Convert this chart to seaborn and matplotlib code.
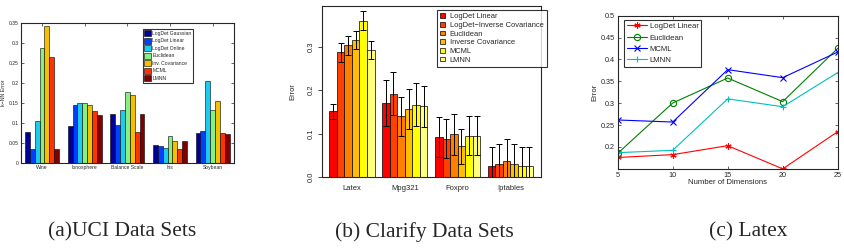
import numpy as np
import pandas as pd
import matplotlib
matplotlib.use("Agg")
import matplotlib.pyplot as plt
import seaborn as sns
from matplotlib.patches import Patch

# ---------------- data ----------------
uci_sets = ["Wine", "Ionosphere", "Balance Scale", "Iris", "Soybean"]
uci_methods = ["LogDet Gaussian", "LogDet Linear", "LogDet Online", "Euclidean",
               "Inv. Covariance", "MCML", "LMNN"]
uci_err = {
    "LogDet Gaussian": [0.077, 0.093, 0.122, 0.046, 0.074],
    "LogDet Linear":   [0.035, 0.145, 0.096, 0.043, 0.080],
    "LogDet Online":   [0.104, 0.150, 0.133, 0.038, 0.206],
    "Euclidean":       [0.287, 0.151, 0.177, 0.067, 0.133],
    "Inv. Covariance": [0.343, 0.145, 0.170, 0.054, 0.154],
    "MCML":            [0.265, 0.130, 0.078, 0.035, 0.075],
    "LMNN":            [0.035, 0.121, 0.123, 0.054, 0.073],
}
uci_colors = ["#000099", "#0040ff", "#19ccf0", "#88f080", "#f5c000", "#ff3300", "#800000"]

clar_sets = ["Latex", "Mpg321", "Foxpro", "Iptables"]
clar_methods = ["LogDet Linear", "LogDet\u2212Inverse Covariance", "Euclidean",
                "Inverse Covariance", "MCML", "LMNN"]
clar_err = {
    "LogDet Linear":                 [0.151, 0.170, 0.092, 0.025],
    "LogDet\u2212Inverse Covariance": [0.287, 0.192, 0.088, 0.029],
    "Euclidean":                     [0.303, 0.140, 0.098, 0.038],
    "Inverse Covariance":            [0.315, 0.157, 0.071, 0.031],
    "MCML":                          [0.360, 0.167, 0.095, 0.025],
    "LMNN":                          [0.293, 0.163, 0.095, 0.025],
}
clar_sd = {
    "LogDet Linear":                 [0.018, 0.053, 0.046, 0.044],
    "LogDet\u2212Inverse Covariance": [0.021, 0.050, 0.045, 0.046],
    "Euclidean":                     [0.021, 0.045, 0.047, 0.049],
    "Inverse Covariance":            [0.021, 0.046, 0.040, 0.046],
    "MCML":                          [0.022, 0.050, 0.045, 0.044],
    "LMNN":                          [0.021, 0.047, 0.045, 0.044],
}
clar_colors = ["#FF0000", "#FF4000", "#FF8000", "#FFBF00", "#FFFF00", "#FFFF80"]

dims = [5, 10, 15, 20, 25]
latex_methods = ["LogDet Linear", "Euclidean", "MCML", "LMNN"]
latex_err = {
    "LogDet Linear": [0.176, 0.1825, 0.203, 0.150, 0.235],
    "Euclidean":     [0.1855, 0.3005, 0.3576, 0.3036, 0.4254],
    "MCML":          [0.2617, 0.257, 0.3767, 0.3584, 0.417],
    "LMNN":          [0.187, 0.1924, 0.310, 0.292, 0.370],
}
latex_colors = ["#ff0000", "#008000", "#0000ff", "#00bfbf"]
latex_markers = [(6, 2, 0), "o", "x", "+"]

captions = ["(a)UCI Data Sets", "(b) Clarify Data Sets", "(c) Latex"]

# ---------------- figure ----------------
sns.set_style("ticks")
plt.rcParams["font.family"] = ["Liberation Sans", "DejaVu Sans"]
plt.rcParams["axes.linewidth"] = 0.8

W, H = 844, 248
fig = plt.figure(figsize=(W / 100, H / 100), dpi=100)


def px_axes(left, top, right, bottom):
    return fig.add_axes([left / W, 1 - bottom / H, (right - left) / W, (bottom - top) / H])


# ---------- panel a ----------
axa = px_axes(20.7, 23, 234, 163)
dfa = pd.DataFrame([(s, m, uci_err[m][i]) for m in uci_methods for i, s in enumerate(uci_sets)],
                   columns=["set", "method", "err"])
sns.barplot(data=dfa, x="set", y="err", hue="method", order=uci_sets, hue_order=uci_methods,
            palette=uci_colors, saturation=1, width=0.8, errorbar=None, legend=False,
            edgecolor="black", linewidth=0.4, ax=axa)
axa.set_xlim(-0.5, len(uci_sets) - 0.5)
axa.set_ylim(0, 0.35)
yt = np.arange(0, 0.351, 0.05)
axa.set_yticks(yt)
axa.set_yticklabels(["0", "0.05", "0.1", "0.15", "0.2", "0.25", "0.3", "0.35"])
axa.tick_params(axis="both", direction="in", labelsize=3.6, length=2, width=0.5, pad=1.5,
                top=True, right=True)
axa.set_xlabel("")
axa.set_ylabel("k\u2212NN Error", fontsize=3.8, labelpad=2)
for sp in axa.spines.values():
    sp.set_visible(True)
    sp.set_linewidth(0.8)
ha = [Patch(facecolor=c, edgecolor="black", linewidth=0.4) for c in uci_colors]
lga = axa.legend(ha, uci_methods, loc="upper left", bbox_to_anchor=(0.572, 0.957),
                 borderaxespad=0, fontsize=3.6, frameon=True, fancybox=False,
                 handlelength=1.5, handleheight=1.5, labelspacing=0.28,
                 handletextpad=0.2, borderpad=0.25)
lga.get_frame().set_edgecolor("black")
lga.get_frame().set_linewidth(0.8)

# ---------- panel b ----------
axb = px_axes(321.7, 6, 540.7, 177)
dfb = pd.DataFrame([(s, m, clar_err[m][i]) for m in clar_methods for i, s in enumerate(clar_sets)],
                   columns=["set", "method", "err"])
sns.barplot(data=dfb, x="set", y="err", hue="method", order=clar_sets, hue_order=clar_methods,
            palette=clar_colors, saturation=1, width=6 / 7, errorbar=None, legend=False,
            edgecolor="black", linewidth=0.5, ax=axb)
for cont, m in zip(axb.containers, clar_methods):
    xs = [p.get_x() + p.get_width() / 2 for p in cont.patches]
    hs = [p.get_height() for p in cont.patches]
    axb.errorbar(xs, hs, yerr=clar_sd[m], fmt="none", ecolor="black", elinewidth=0.7,
                 capsize=2.0, capthick=0.7, zorder=5)
axb.set_xlim(-4 / 7, len(clar_sets) - 1 + 4 / 7)
axb.set_ylim(0, 0.394)
axb.set_yticks([0.0, 0.1, 0.2, 0.3])
axb.set_yticklabels(["0.0", "0.1", "0.2", "0.3"], rotation=90, va="center")
axb.tick_params(axis="y", direction="out", length=3, width=0.6, labelsize=5.5, pad=2)
axb.tick_params(axis="x", length=0, labelsize=5.5, pad=6)
axb.set_xlabel("")
axb.set_ylabel("Error", fontsize=5.5, labelpad=8)
for sp in axb.spines.values():
    sp.set_visible(True)
    sp.set_linewidth(0.8)
hb = [Patch(facecolor=c, edgecolor="black", linewidth=0.5) for c in clar_colors]
lgb = axb.legend(hb, clar_methods, loc="upper left", bbox_to_anchor=(0.525, 0.977),
                 borderaxespad=0, fontsize=5.4, frameon=True, fancybox=False,
                 handlelength=0.6, handleheight=0.6, labelspacing=0.22,
                 handletextpad=0.7, borderpad=0.45)
lgb.get_frame().set_edgecolor("black")
lgb.get_frame().set_linewidth(0.8)

# ---------- panel c ----------
axc = px_axes(617.7, 15.7, 837.7, 169.3)
for m, c, mk in zip(latex_methods, latex_colors, latex_markers):
    kw = dict(markerfacecolor="none") if mk == "o" else {}
    sns.lineplot(x=dims, y=latex_err[m], color=c, marker=mk, markersize=4.5,
                 markeredgecolor=c, markeredgewidth=0.8, linewidth=0.8, label=m, ax=axc, **kw)
axc.set_xlim(5, 25)
axc.set_ylim(0.149, 0.5)
axc.set_xticks(dims)
axc.set_yticks([0.2, 0.25, 0.3, 0.35, 0.4, 0.45, 0.5])
axc.set_yticklabels(["0.2", "0.25", "0.3", "0.35", "0.4", "0.45", "0.5"])
axc.tick_params(axis="both", direction="in", labelsize=5.2, length=2.5, width=0.5, pad=2,
                top=True, right=True)
axc.set_xlabel("Number of Dimensions", fontsize=5.6, labelpad=0)
axc.set_ylabel("Error", fontsize=5.6, labelpad=2)
for sp in axc.spines.values():
    sp.set_visible(True)
    sp.set_linewidth(0.8)
lgc = axc.legend(loc="upper left", bbox_to_anchor=(0.03, 0.972), borderaxespad=0,
                 fontsize=5.6, frameon=True, fancybox=False, handlelength=2.6,
                 labelspacing=0.5, handletextpad=0.3, borderpad=0.35)
lgc.get_frame().set_edgecolor("black")
lgc.get_frame().set_linewidth(0.8)

# ---------- captions ----------
for txt, xc in zip(captions, [122, 424, 748]):
    fig.text(xc / W, 1 - 232 / H, txt, ha="center", va="center", fontsize=15.5,
             family=["Liberation Serif", "DejaVu Serif"])

fig.savefig("out.png", dpi=100)
